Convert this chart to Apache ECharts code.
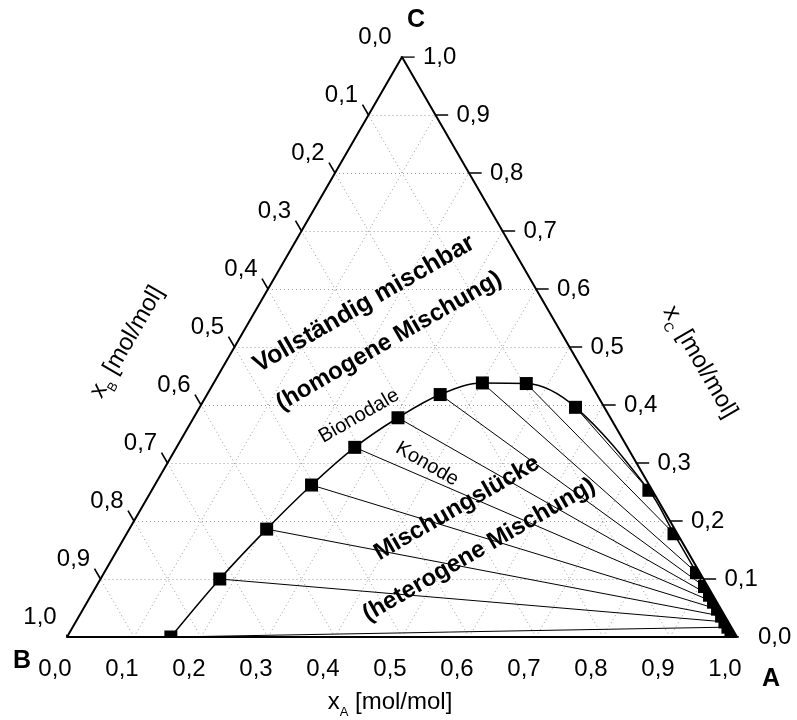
<!DOCTYPE html>
<html><head><meta charset="utf-8">
<script src="https://cdn.jsdelivr.net/npm/echarts@6/dist/echarts.min.js"></script>
<style>html,body{margin:0;padding:0;background:#fff}#c{width:797px;height:720px}</style>
</head><body><div id="c"></div>
<script>
// ---- data (ternary mole fractions) ----
const tickValues = [0, 0.1, 0.2, 0.3, 0.4, 0.5, 0.6, 0.7, 0.8, 0.9, 1.0];
const tickLabels = ['0,0','0,1','0,2','0,3','0,4','0,5','0,6','0,7','0,8','0,9','1,0'];
// left (B-rich) branch of the binodal, bottom -> top
const leftXA = [0.155, 0.178, 0.205, 0.234, 0.266, 0.305, 0.348, 0.401, 0.467, 0.561];
const leftXC = [0.000, 0.100, 0.186, 0.262, 0.327, 0.378, 0.418, 0.438, 0.437, 0.396];
// right (A-rich) branch, top -> bottom
const rightXA = [0.742, 0.817, 0.884, 0.908, 0.923, 0.935, 0.947, 0.959, 0.969, 0.978, 0.987];
const rightXC = [0.253, 0.178, 0.111, 0.087, 0.072, 0.060, 0.048, 0.036, 0.026, 0.017, 0.008];
// tie lines (Konoden): left index -> right index
const tieFrom = [9, 8, 7, 6, 5, 4, 3, 2, 1, 0];
const tieTo   = [0, 1, 2, 3, 4, 5, 6, 7, 8, 9];

const S3 = Math.sqrt(3) / 2;
function tp(a, c) { return [a + c / 2, c * S3]; }
const FONT = "'Liberation Sans', Arial, Helvetica, sans-serif";

const gridData = [];
for (let i = 1; i < tickValues.length - 1; i++) {
  const v = tickValues[i];
  gridData.push({ coords: [tp(0, v), tp(1 - v, v)] });
  gridData.push({ coords: [tp(v, 0), tp(v, 1 - v)] });
  gridData.push({ coords: [tp(1 - v, 0), tp(0, 1 - v)] });
}
const TL = 0.018;
const tickData = [];
const botPts = [], leftPts = [], rightPts = [];
tickValues.forEach(v => {
  const b = tp(v, 0); botPts.push(b);
  tickData.push({ coords: [b, [b[0] - TL * 0.5, b[1] - TL * S3]] });
  const l = tp(0, 1 - v); leftPts.push(l);
  tickData.push({ coords: [l, [l[0] - TL * 0.5, l[1] + TL * S3]] });
  const r = tp(1 - v, v); rightPts.push(r);
  tickData.push({ coords: [r, [r[0] + TL * 1.05, r[1]]] });
});
const leftPtsXY = leftXA.map((a, i) => tp(a, leftXC[i]));
const rightPtsXY = rightXA.map((a, i) => tp(a, rightXC[i]));
const curveData = leftPtsXY.concat(rightPtsXY);
const tieData = tieFrom.map((f, k) => ({ coords: [leftPtsXY[f], rightPtsXY[tieTo[k]]] }));
const frameData = [tp(0, 0), tp(1, 0), tp(0, 1), tp(0, 0)];

function labelSeries(pts, offset, align) {
  return {
    type: 'scatter', data: pts, symbolSize: 0.1, itemStyle: { color: 'transparent', opacity: 1 }, z: 100, silent: true,
    label: { show: true, position: 'inside', formatter: p => tickLabels[p.dataIndex], color: '#000', opacity: 1,
      fontSize: 24, fontFamily: FONT, offset: offset, align: align, verticalAlign: 'middle' }
  };
}

const chart = echarts.init(document.getElementById('c'));
chart.setOption({
  animation: false,
  grid: { left: 67, top: 57, width: 670, height: 580 },
  xAxis: { type: 'value', min: 0, max: 1, show: false },
  yAxis: { type: 'value', min: 0, max: S3, show: false },
  series: [
    { type: 'lines', coordinateSystem: 'cartesian2d', data: gridData, silent: true, z: 1,
      lineStyle: { color: '#9a9a9a', width: 1, type: [1, 3], opacity: 1 } },
    { type: 'lines', coordinateSystem: 'cartesian2d', data: tieData, silent: true, z: 3,
      lineStyle: { color: '#000', width: 1, opacity: 1 } },
    { type: 'line', data: curveData, smooth: 0.35, showSymbol: false, z: 3, silent: true,
      lineStyle: { color: '#000', width: 1.5 } },
    { type: 'scatter', data: curveData, symbol: 'rect', symbolSize: 13, z: 4, silent: true,
      itemStyle: { color: '#000', opacity: 1 } },
    { type: 'line', data: frameData, showSymbol: false, z: 100, silent: true,
      lineStyle: { color: '#000', width: 2 } },
    { type: 'lines', coordinateSystem: 'cartesian2d', data: tickData, silent: true, z: 100,
      lineStyle: { color: '#000', width: 1.6, opacity: 1 } },
    labelSeries(botPts, [-12, 32], 'center'),
    labelSeries(leftPts, [-27, -20], 'center'),
    labelSeries(rightPts, [21, 0], 'left')
  ]
});

const pA = chart.convertToPixel({ gridIndex: 0 }, tp(1, 0));
const pB = chart.convertToPixel({ gridIndex: 0 }, tp(0, 0));
const pC = chart.convertToPixel({ gridIndex: 0 }, tp(0, 1));
const deg = Math.PI / 180;
function txt(text, x, y, size, weight, rot) {
  return { type: 'text', x: x, y: y, rotation: (rot || 0) * deg, z: 120,
    style: { text: text, fontSize: size, fontWeight: weight, fontFamily: FONT, fill: '#000',
      align: 'center', verticalAlign: 'middle' } };
}
function subTitle(main, sub, x, y, rot) {
  return { type: 'text', x: x, y: y, rotation: rot * deg, z: 120,
    style: { text: '{m|x}{s|' + sub + '}{m| ' + main + '}', align: 'center', verticalAlign: 'middle',
      rich: { m: { fontSize: 24, fontFamily: FONT, fill: '#000', color: '#000', lineHeight: 34 },
              s: { fontSize: 13, fontFamily: FONT, fill: '#000', color: '#000', lineHeight: 14, verticalAlign: 'bottom' } } } };
}
chart.setOption({
  graphic: [
    { type: 'polygon', z: 50, silent: true,
      shape: { points: [pC, [797, pC[1]], [797, 720], [0, 720], [0, pB[1]], pB, pA, pC] },
      style: { fill: '#fff' } },
    subTitle('[mol/mol]', 'A', 390, 702, 0),
    subTitle('[mol/mol]', 'B', 127, 342, 60),
    subTitle('[mol/mol]', 'C', 700, 362, -60),
    txt('B', 22, 661, 25, 'bold', 0),
    txt('A', 771, 679, 25, 'bold', 0),
    txt('C', 416, 20, 25, 'bold', 0),
    txt('Vollständig mischbar', 364, 304, 25, 'bold', 30),
    txt('(homogene Mischung)', 389, 341, 24, 'bold', 30),
    txt('Bionodale', 359, 416, 20, 'normal', 30),
    txt('Konode', 427, 464, 20, 'normal', -30),
    txt('Mischungslücke', 457, 508, 24, 'bold', 30),
    txt('(heterogene Mischung)', 479, 550, 24, 'bold', 30)
  ]
});
</script></body></html>
